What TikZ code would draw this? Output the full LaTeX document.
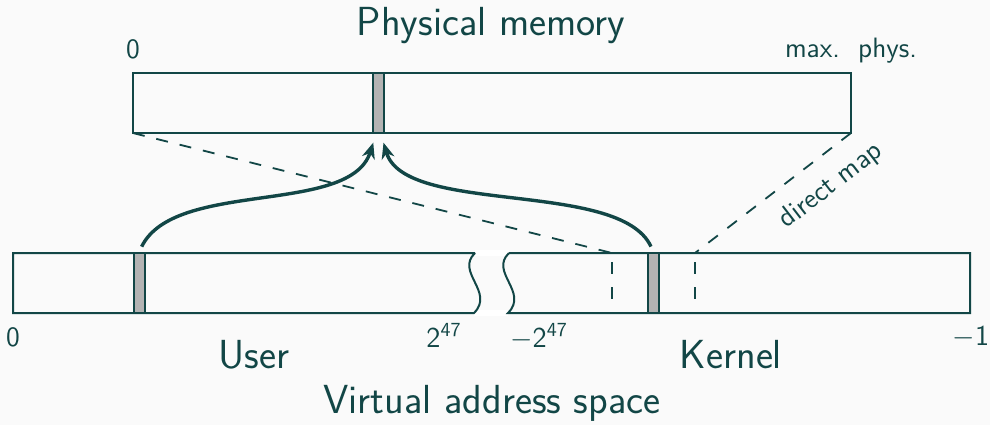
\documentclass[tikz,border=0pt]{standalone}
\usetikzlibrary{arrows.meta}
\definecolor{ink}{HTML}{124646}
\definecolor{framegray}{HTML}{B3B3B3}
\definecolor{bg}{HTML}{FAFAFA}
\begin{document}
\begin{tikzpicture}[x=0.5pt,y=-0.5pt,
  every node/.style={text=ink,font=\sffamily},
  boxline/.style={draw=ink,line width=1pt},
  grayframe/.style={draw=ink,fill=framegray,line width=1pt,minimum width=5.5pt,minimum height=30pt,inner sep=0pt},
  mapline/.style={draw=ink,line width=0.9pt,dash pattern=on 6pt off 6pt},
  vline/.style={draw=ink,line width=0.9pt,dash pattern=on 6pt off 6.5pt,dash phase=8pt},
  bigarrow/.style={draw=ink,line width=1.7pt,-{Stealth[length=8pt,width=6.5pt,inset=2.5pt]},shorten <=3pt,shorten >=4.5pt},
  bigtext/.style={font=\sffamily\fontsize{20.3}{24}\selectfont},
  smalltext/.style={font=\sffamily\fontsize{14}{17}\selectfont}]
\fill[bg] (0,0) rectangle (990,425);
\useasboundingbox (0,0) rectangle (990,425);
% coordinates
\coordinate (pTL) at (133,73);
\coordinate (pBR) at (851,133);
\coordinate (pBL) at (133,133);
\coordinate (pTR) at (851,73);
\coordinate (v1) at (612,253);
\coordinate (v1b) at (612,313);
\coordinate (v2) at (695,253);
\coordinate (v2b) at (695,313);
% dashed mapping lines
\draw[mapline] (pBL) -- (v1);
\draw[mapline] (pBR) -- (v2);
\draw[vline] (v1) -- (v1b);
\draw[vline] (v2) -- (v2b);
% physical memory box
\draw[boxline] (pTL) rectangle (pBR);
% white strips of the break
\fill[white] (475,250) -- (509,250) -- (509,256) -- (473,256) -- cycle;
\fill[white] (474,310) -- (508,310) -- (508,316) -- (474,316) -- cycle;
% virtual address space (two parts with wavy break)
\draw[boxline] (475,253) -- (13,253) -- (13,313) -- (474,313) .. controls (495,292) and (455,272) .. (475,253);
\draw[boxline] (509,253) -- (970,253) -- (970,313) -- (508,313) .. controls (529,292) and (489,272) .. (509,253);
% frames
\node[grayframe] (pf) at (378.5,103) {};
\node[grayframe] (uf) at (139,283) {};
\node[grayframe] (kf) at (653.5,283) {};
% arrows
\draw[bigarrow] (uf.north) .. controls +(36,-73) and +(-26,82) .. ([xshift=-1.25pt]pf.south);
\draw[bigarrow] (kf.north) .. controls +(-34,-73) and +(24,82) .. ([xshift=1.25pt]pf.south);
% labels
\node[bigtext,anchor=base] (title) at (491,35) {Physical memory};
\node[smalltext,anchor=base] (pzero) at (133,58) {0};
\node[smalltext,anchor=base] (pmax) at (851,57) {max.\ \ phys.};
\node[smalltext,rotate=37.6] (dmap) at (831,186) {direct map};
\node[smalltext,anchor=base] (vzero) at (13,346) {0};
\node[smalltext,anchor=base] (vtop) at (444,347) {$\mathsf{2}^{\mathsf{47}}$};
\node[smalltext,anchor=base] (vneg) at (539,347) {$-\mathsf{2}^{\mathsf{47}}$};
\node[smalltext,anchor=base] (vend) at (971,345) {$-\mathsf{1}$};
\node[bigtext,anchor=base] (user) at (254,368) {User};
\node[bigtext,anchor=base] (kernel) at (731,368) {Kernel};
\node[bigtext,anchor=base] (vas) at (492,413) {Virtual address space};
\end{tikzpicture}
\end{document}
